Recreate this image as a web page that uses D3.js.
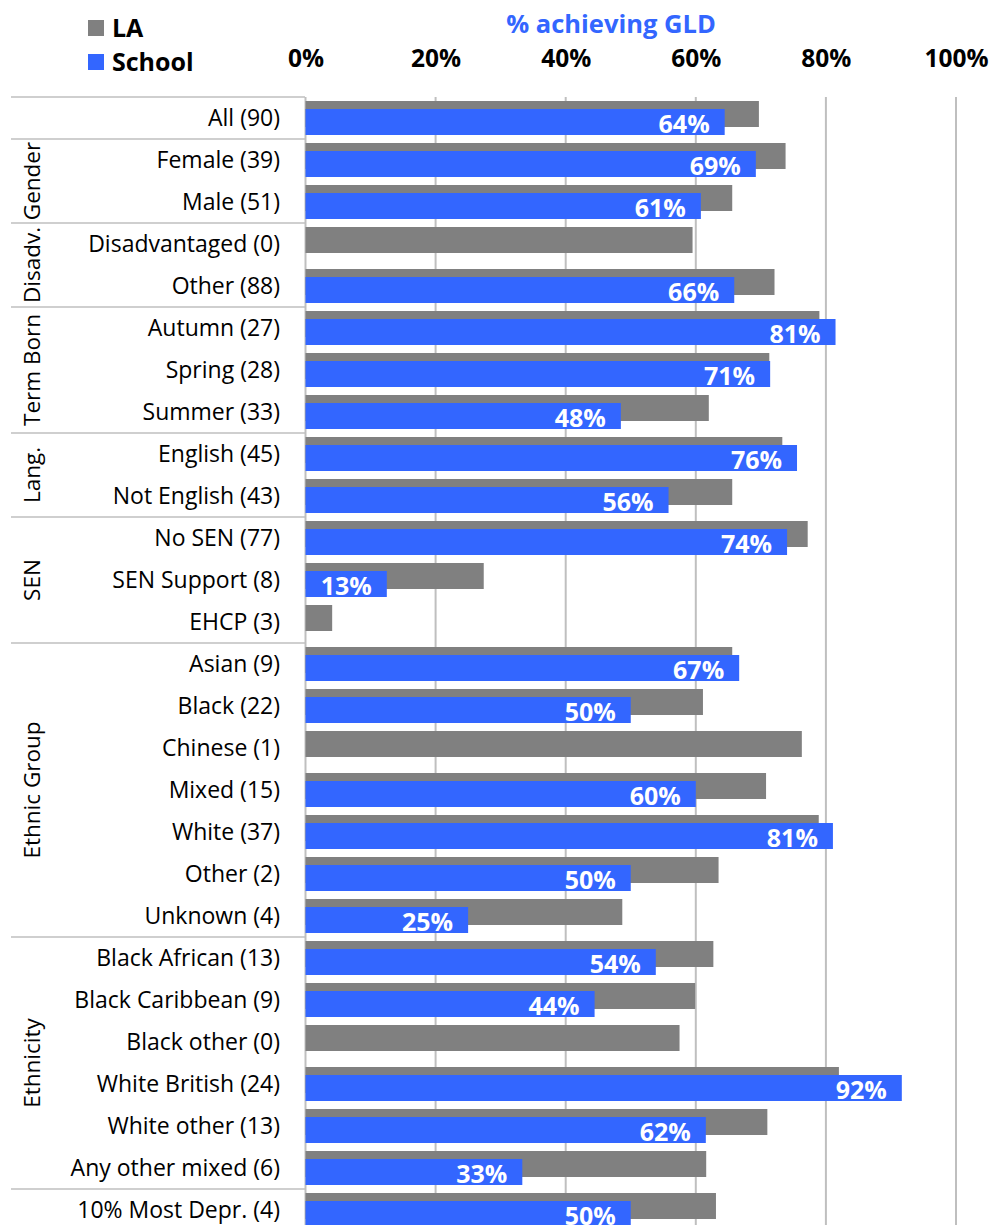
<!DOCTYPE html>
<html>
<head>
<meta charset="utf-8">
<script src="https://cdn.jsdelivr.net/npm/d3@7"></script>
<style>
  html, body { margin: 0; padding: 0; background: #fff; }
  svg { display: block; font-family: "Open Sans", "Noto Sans", sans-serif; }
</style>
</head>
<body>
<svg id="chart" width="990" height="1225"></svg>
<script>
// Pupil groups, one row each (count of pupils in brackets)
const categories = [
  "All (90)",
  "Female (39)", "Male (51)",
  "Disadvantaged (0)", "Other (88)",
  "Autumn (27)", "Spring (28)", "Summer (33)",
  "English (45)", "Not English (43)",
  "No SEN (77)", "SEN Support (8)", "EHCP (3)",
  "Asian (9)", "Black (22)", "Chinese (1)", "Mixed (15)", "White (37)", "Other (2)", "Unknown (4)",
  "Black African (13)", "Black Caribbean (9)", "Black other (0)", "White British (24)", "White other (13)", "Any other mixed (6)",
  "10% Most Depr. (4)"
];

// Group headings and how many rows each one spans
const groupNames = ["", "Gender", "Disadv.", "Term Born", "Lang.", "SEN", "Ethnic Group", "Ethnicity", ""];
const groupSizes = [1, 2, 2, 3, 2, 3, 7, 6, 1];

// Local authority % achieving GLD
const laValues = [
  69.7,
  73.8, 65.6,
  59.5, 72.1,
  79.0, 71.3, 62.0,
  73.3, 65.6,
  77.2, 27.4, 4.1,
  65.6, 61.1, 76.3, 70.8, 78.9, 63.5, 48.7,
  62.7, 59.9, 57.5, 82.0, 71.0, 61.6,
  63.1
];

// School % achieving GLD (null where no pupil achieved / no pupils)
const schoolValues = [
  64.44,
  69.23, 60.78,
  null, 65.91,
  81.48, 71.43, 48.48,
  75.56, 55.81,
  74.03, 12.5, null,
  66.67, 50.0, null, 60.0, 81.08, 50.0, 25.0,
  53.85, 44.44, null, 91.67, 61.54, 33.33,
  50.0
];

const tickValues = [0, 20, 40, 60, 80, 100];
const seriesNames = ["LA", "School"];

const colLA = "#808080";
const colSchool = "#3366ff";
const gridCol = "#bfbfbf";

const svg = d3.select("#chart");

const plotTop = 97, band = 42;
const x = d3.scaleLinear().domain([0, 100]).range([305.5, 956]);
const y = d3.scaleBand()
  .domain(d3.range(categories.length))
  .range([plotTop, plotTop + band * categories.length])
  .padding(0);

// Vertical gridlines
svg.append("g")
  .selectAll("line")
  .data(tickValues)
  .join("line")
  .attr("x1", d => x(d)).attr("x2", d => x(d))
  .attr("y1", plotTop).attr("y2", 1225)
  .attr("stroke", gridCol)
  .attr("stroke-width", 2);

// Top axis with percentage labels
const axis = svg.append("g")
  .attr("transform", "translate(0,67)")
  .call(d3.axisTop(x).tickValues(tickValues).tickFormat(d => d + "%").tickSize(0).tickPadding(0));
axis.select(".domain").remove();
axis.selectAll("text")
  .attr("font-family", "'Open Sans', sans-serif")
  .attr("font-size", 24.5)
  .attr("font-weight", "bold")
  .attr("fill", "#000")
  .attr("dy", 0);

// Axis title
svg.append("text")
  .attr("x", 611).attr("y", 33)
  .attr("text-anchor", "middle")
  .attr("font-size", 25.5)
  .attr("font-weight", "bold")
  .attr("fill", colSchool)
  .text("% achieving GLD");

// Legend
const legend = svg.append("g");
const legendRows = legend.selectAll("g")
  .data(seriesNames)
  .join("g")
  .attr("transform", (d, i) => `translate(88,${20 + i * 34})`);
legendRows.append("rect")
  .attr("width", 16).attr("height", 16)
  .attr("fill", (d, i) => i === 0 ? colLA : colSchool);
legendRows.append("text")
  .attr("x", 24).attr("y", 16.5)
  .attr("font-size", 25)
  .attr("font-weight", "bold")
  .attr("fill", "#000")
  .text(d => d);

// Group separators and rotated group headings
let start = 0;
const groups = groupNames.map((name, i) => {
  const g = { name, start, end: start + groupSizes[i] };
  start += groupSizes[i];
  return g;
});
svg.append("g")
  .selectAll("line")
  .data(groups)
  .join("line")
  .attr("x1", 11).attr("x2", 305)
  .attr("y1", d => y(d.start)).attr("y2", d => y(d.start))
  .attr("stroke", gridCol)
  .attr("stroke-width", 1.5);
svg.append("g")
  .selectAll("text")
  .data(groups.filter(g => g.name))
  .join("text")
  .attr("transform", d => `translate(40,${y(d.start) + band * (d.end - d.start) / 2}) rotate(-90)`)
  .attr("text-anchor", "middle")
  .attr("font-size", 22.5)
  .attr("fill", "#000")
  .text(d => d.name);

// Category labels
svg.append("g")
  .selectAll("text")
  .data(categories)
  .join("text")
  .attr("x", 280)
  .attr("y", (d, i) => y(i) + band / 2 + 8)
  .attr("text-anchor", "end")
  .attr("font-size", 23)
  .attr("fill", "#000")
  .text(d => d);

// LA bars (behind)
svg.append("g")
  .selectAll("rect")
  .data(laValues)
  .join("rect")
  .attr("x", x(0))
  .attr("y", (d, i) => y(i) + 4)
  .attr("width", d => x(d) - x(0))
  .attr("height", 26)
  .attr("fill", colLA);

// School bars (front, offset down)
const schoolData = schoolValues.map((v, i) => ({ v, i })).filter(d => d.v !== null);
svg.append("g")
  .selectAll("rect")
  .data(schoolData)
  .join("rect")
  .attr("x", x(0))
  .attr("y", d => y(d.i) + 12)
  .attr("width", d => x(d.v) - x(0))
  .attr("height", 26)
  .attr("fill", colSchool);

// School value labels inside bar ends
svg.append("g")
  .selectAll("text")
  .data(schoolData)
  .join("text")
  .attr("x", d => x(d.v) - 15)
  .attr("y", d => y(d.i) + 35.5)
  .attr("text-anchor", "end")
  .attr("font-size", 25)
  .attr("font-weight", "bold")
  .attr("fill", "#fff")
  .text(d => Math.round(d.v) + "%");
</script>
</body>
</html>
